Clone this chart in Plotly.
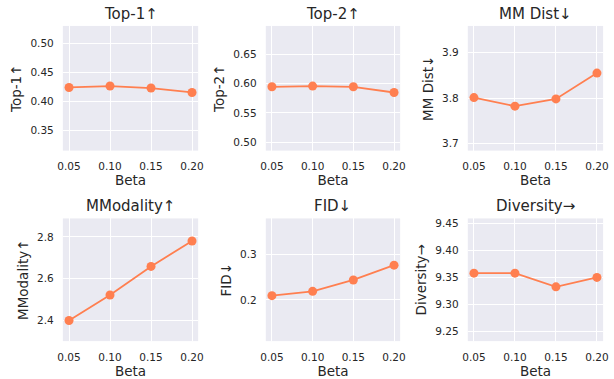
import plotly.graph_objects as go

beta = [0.05, 0.10, 0.15, 0.20]
metric_names = ["Top-1↑", "Top-2↑", "MM Dist↓", "MModality↑", "FID↓", "Diversity→"]
top1 = [0.4244, 0.4268, 0.4234, 0.4158]
top2 = [0.5945, 0.5957, 0.5945, 0.5848]
mm_dist = [3.801, 3.782, 3.798, 3.855]
mmodality = [2.400, 2.522, 2.659, 2.781]
fid = [0.2094, 0.2189, 0.2441, 0.2768]
diversity = [9.3583, 9.3583, 9.3328, 9.3504]
series = [top1, top2, mm_dist, mmodality, fid, diversity]

y_ranges = [[0.316, 0.530], [0.486, 0.698], [3.684, 3.959],
             [2.301, 2.889], [0.109, 0.380], [9.232, 9.460]]
y_dticks = [0.05, 0.05, 0.1, 0.2, 0.1, 0.05]
y_formats = [".2f", ".2f", ".1f", ".1f", ".1f", ".2f"]

W, H = 614, 379
col_px = [(58, 196), (265, 402), (471, 609)]
row_px = [(25, 150), (218, 341)]
TXT = "#262626"
COL = "#FF7F50"
FONT = "DejaVu Sans"

fig = go.Figure()
layout = dict(width=W, height=H, margin=dict(l=0, r=0, t=0, b=0),
              paper_bgcolor="white", plot_bgcolor="#EAEAF2",
              font=dict(family=FONT, color=TXT), showlegend=False)
annotations = []
for i, (name, vals) in enumerate(zip(metric_names, series)):
    r, c = divmod(i, 3)
    x0, x1 = col_px[c]
    y0, y1 = row_px[r]
    n = "" if i == 0 else str(i + 1)
    xa, ya = "xaxis" + n, "yaxis" + n
    fig.add_trace(go.Scatter(x=beta, y=vals, mode="lines+markers",
                             line=dict(color=COL, width=1.8),
                             marker=dict(color=COL, size=9),
                             xaxis="x" + n, yaxis="y" + n))
    layout[xa] = dict(domain=[x0 / W, x1 / W], anchor="y" + n,
                      range=[0.0425, 0.2075], tickvals=beta, tickformat=".2f",
                      showgrid=True, gridcolor="white", gridwidth=1, zeroline=False,
                      showline=False, ticks="outside", ticklen=6,
                      tickcolor="rgba(0,0,0,0)",
                      tickfont=dict(size=10.5, color=TXT),
                      title=dict(text="Beta", font=dict(size=13.5, color=TXT), standoff=3))
    layout[ya] = dict(domain=[1 - y1 / H, 1 - y0 / H], anchor="x" + n,
                      range=y_ranges[i], dtick=y_dticks[i], tick0=0,
                      tickformat=y_formats[i],
                      showgrid=True, gridcolor="white", gridwidth=1, zeroline=False,
                      showline=False, ticks="outside", ticklen=6,
                      tickcolor="rgba(0,0,0,0)",
                      tickfont=dict(size=10.5, color=TXT),
                      title=dict(text=name, font=dict(size=13.5, color=TXT), standoff=5))
    annotations.append(dict(text=name, x=(x0 + x1) / 2 / W, y=1 - y0 / H,
                            xref="paper", yref="paper", xanchor="center",
                            yanchor="bottom", yshift=1, showarrow=False,
                            font=dict(size=15, color=TXT)))
layout["annotations"] = annotations
fig.update_layout(**layout)
fig.write_html("out.html", config={"displayModeBar": False},
               post_script="document.body.style.margin='0px';document.body.style.padding='0px';document.body.style.overflow='hidden';")
